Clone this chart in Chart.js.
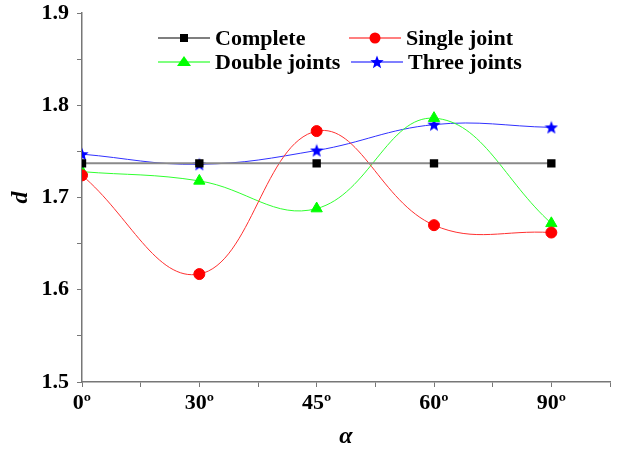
<!DOCTYPE html>
<html>
<head>
<meta charset="utf-8">
<script src="https://cdn.jsdelivr.net/npm/chart.js@4"></script>
<style>
  html, body { margin: 0; padding: 0; background: #fff; }
  #wrap { width: 618px; height: 455px; }
</style>
</head>
<body>
<div id="wrap"><canvas id="chart" width="618" height="455"></canvas></div>
<script>
// values
const categories = ['0º', '30º', '45º', '60º', '90º'];
const complete = [1.737, 1.737, 1.737, 1.737, 1.737];
const singleJoint = [1.724, 1.617, 1.772, 1.670, 1.662];
const doubleJoints = [1.728, 1.718, 1.688, 1.786, 1.672];
const threeJoints = [1.747, 1.736, 1.751, 1.779, 1.776];
const seriesNames = ['Complete', 'Single joint', 'Double joints', 'Three joints'];

const serif = "'Liberation Serif', 'Times New Roman', serif";

// filled five point star, used as point style
function makeStar(color, size) {
    const c = document.createElement('canvas');
    c.width = size; c.height = size;
    const g = c.getContext('2d');
    const cx = size / 2, cy = size / 2 + 0.5, R = size / 2, r = R * 0.42;
    g.beginPath();
    for (let i = 0; i < 10; i++) {
        const rad = i % 2 === 0 ? R : r;
        const a = -Math.PI / 2 + i * Math.PI / 5;
        g.lineTo(cx + rad * Math.cos(a), cy + rad * Math.sin(a));
    }
    g.closePath();
    g.fillStyle = color;
    g.fill();
    return c;
}
const starImg = makeStar('#0000ff', 14);

function toPoints(vals) {
    return vals.map((v, i) => ({ x: i, y: v }));
}

const datasets = [
    { label: seriesNames[0], data: toPoints(complete), borderColor: '#8a8a8a', lineColor: '#000000',
      backgroundColor: '#000000', pointBackgroundColor: '#000000', pointBorderColor: '#000000',
      pointStyle: 'rect', pointRadius: 4.5, borderWidth: 2, tension: 0 },
    { label: seriesNames[1], data: toPoints(singleJoint), borderColor: '#ff3030', lineColor: '#ff0000',
      backgroundColor: '#ff0000', pointBackgroundColor: '#ff0000', pointBorderColor: '#ff0000',
      pointStyle: 'circle', pointRadius: 5.5, borderWidth: 1, tension: 0.4 },
    { label: seriesNames[2], data: toPoints(doubleJoints), borderColor: '#30ff30', lineColor: '#00ff00',
      backgroundColor: '#00ff00', pointBackgroundColor: '#00ff00', pointBorderColor: '#00ff00',
      pointStyle: 'triangle', pointRadius: 6.5, borderWidth: 1, tension: 0.4 },
    { label: seriesNames[3], data: toPoints(threeJoints), borderColor: '#3030ff', lineColor: '#0000ff',
      backgroundColor: '#0000ff', pointBackgroundColor: '#0000ff', pointBorderColor: '#0000ff',
      pointStyle: starImg, pointRadius: 7, borderWidth: 1, tension: 0.4 }
];

// legend drawn by hand: two rows, two columns, line sample with marker
const legendBox = {
    id: 'legendBox',
    afterDraw(chart) {
        const ctx = chart.ctx;
        const rows = [38, 62];
        const cols = [158, 349];
        ctx.save();
        ctx.font = 'bold 22px ' + serif;
        ctx.textBaseline = 'middle';
        chart.data.datasets.forEach((ds, i) => {
            const x0 = cols[i % 2] + (i === 3 ? 2 : 0);
            const y = rows[Math.floor(i / 2)];
            ctx.strokeStyle = ds.lineColor;
            ctx.lineWidth = 1.2;
            ctx.beginPath();
            ctx.moveTo(x0, y);
            ctx.lineTo(x0 + 52, y);
            ctx.stroke();
            const mx = x0 + 26;
            ctx.fillStyle = ds.pointBackgroundColor;
            if (ds.pointStyle === 'rect') {
                ctx.fillRect(mx - 4, y - 4, 8, 8);
            } else if (ds.pointStyle === 'circle') {
                ctx.beginPath(); ctx.arc(mx, y, 5.5, 0, Math.PI * 2); ctx.fill();
            } else if (ds.pointStyle === 'triangle') {
                ctx.beginPath();
                ctx.moveTo(mx, y - 6); ctx.lineTo(mx + 7, y + 4); ctx.lineTo(mx - 7, y + 4);
                ctx.closePath(); ctx.fill();
            } else {
                ctx.drawImage(ds.pointStyle, mx - 7, y - 7);
            }
            ctx.fillStyle = '#000';
            ctx.fillText(ds.label, x0 + 57, y + 1);
        });
        ctx.restore();
    }
};

new Chart(document.getElementById('chart'), {
    type: 'line',
    data: { datasets },
    plugins: [legendBox],
    options: {
        responsive: false,
        animation: false,
        layout: { padding: { top: 13, right: 6, left: 0, bottom: 0 } },
        plugins: { legend: { display: false }, tooltip: { enabled: false } },
        scales: {
            x: {
                type: 'linear',
                min: 0,
                max: 4.5,
                afterFit(scale) { scale.height = 73; scale.paddingLeft = 0; scale.paddingRight = 0; },
                border: { color: '#777', width: 1.5 },
                grid: { drawOnChartArea: false, drawTicks: true, tickLength: 5, color: '#777' },
                ticks: {
                    stepSize: 0.5,
                    autoSkip: false,
                    maxRotation: 0,
                    padding: 3,
                    color: '#000',
                    font: { family: serif, size: 22, weight: 'bold' },
                    callback: (v) => Number.isInteger(v) && categories[v] !== undefined ? categories[v] : ''
                },
                title: {
                    display: true,
                    text: 'α',
                    color: '#000',
                    font: { family: serif, size: 24, weight: 'bold', style: 'italic' },
                    padding: { top: 0, bottom: 4 }
                }
            },
            y: {
                min: 1.5,
                max: 1.9,
                afterFit(scale) { scale.width = 82; scale.paddingTop = 0; scale.paddingBottom = 0; },
                border: { color: '#777', width: 1.5 },
                grid: { drawOnChartArea: false, drawTicks: true, tickLength: 5, color: '#777' },
                ticks: {
                    stepSize: 0.05,
                    autoSkip: false,
                    padding: 8,
                    color: '#000',
                    font: { family: serif, size: 22, weight: 'bold' },
                    callback: (v) => Math.round(v * 100) % 10 === 0 ? v.toFixed(1) : ''
                },
                title: {
                    display: true,
                    text: 'd',
                    color: '#000',
                    font: { family: serif, size: 24, weight: 'bold', style: 'italic' },
                    padding: { top: 6, bottom: 0 }
                }
            }
        }
    }
});
</script>
</body>
</html>
